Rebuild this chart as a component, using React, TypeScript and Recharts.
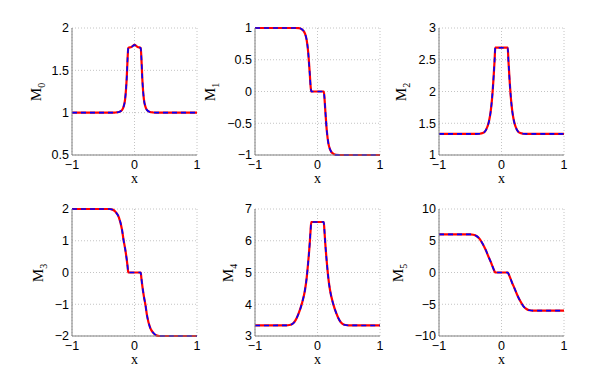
import { CartesianGrid, Line, LineChart, XAxis, YAxis } from "recharts";

const xs = [-1, -0.7, -0.5, -0.45, -0.4, -0.35, -0.3, -0.25, -0.2, -0.175, -0.15, -0.125, -0.11, -0.1, -0.05, 0, 0.05, 0.1, 0.11, 0.125, 0.15, 0.175, 0.2, 0.25, 0.3, 0.35, 0.4, 0.45, 0.5, 0.7, 1];

const m0 = [1, 1, 1, 1, 1, 1, 1.002, 1.008, 1.03, 1.07, 1.16, 1.4, 1.65, 1.765, 1.775, 1.8, 1.775, 1.765, 1.65, 1.4, 1.16, 1.07, 1.03, 1.008, 1.002, 1, 1, 1, 1, 1, 1];
const m1 = [1, 1, 1, 1, 1, 1, 0.998, 0.98, 0.91, 0.82, 0.63, 0.3, 0.08, 0, 0, 0, 0, 0, -0.08, -0.3, -0.63, -0.82, -0.91, -0.98, -0.998, -1, -1, -1, -1, -1, -1];
const m2 = [1.333, 1.333, 1.333, 1.333, 1.333, 1.335, 1.345, 1.39, 1.53, 1.67, 1.9, 2.25, 2.5, 2.69, 2.69, 2.69, 2.69, 2.69, 2.5, 2.25, 1.9, 1.67, 1.53, 1.39, 1.345, 1.335, 1.333, 1.333, 1.333, 1.333, 1.333];
const m3 = [2, 2, 2, 2, 2, 1.98, 1.9, 1.74, 1.35, 1.02, 0.75, 0.42, 0.18, 0, 0, 0, 0, 0, -0.18, -0.42, -0.75, -1.02, -1.35, -1.74, -1.9, -1.98, -2, -2, -2, -2, -2];
const m4 = [3.333, 3.333, 3.335, 3.345, 3.38, 3.5, 3.72, 4.02, 4.45, 4.8, 5.3, 5.9, 6.35, 6.59, 6.59, 6.59, 6.59, 6.59, 6.35, 5.9, 5.3, 4.8, 4.45, 4.02, 3.72, 3.5, 3.38, 3.345, 3.335, 3.333, 3.333];
const m5 = [6, 6, 6, 5.95, 5.75, 5.3, 4.5, 3.5, 2.3, 1.75, 1.12, 0.5, 0.15, 0, 0, 0, 0, 0, -0.15, -0.5, -1.12, -1.75, -2.3, -3.5, -4.5, -5.3, -5.75, -5.95, -6, -6, -6];

const xTicks = [-1, 0, 1];
const yTicks = [
  [0.5, 1, 1.5, 2],
  [-1, -0.5, 0, 0.5, 1],
  [1, 1.5, 2, 2.5, 3],
  [-2, -1, 0, 1, 2],
  [3, 4, 5, 6, 7],
  [-10, -5, 0, 5, 10],
];
const series = [m0, m1, m2, m3, m4, m5];

// plot-box placement and ylabel x centre for each panel
const panels = [
  { left: 72, top: 28, labelX: 38 },
  { left: 255, top: 28, labelX: 212 },
  { left: 439, top: 28, labelX: 403 },
  { left: 72, top: 209, labelX: 40 },
  { left: 255, top: 209, labelX: 230 },
  { left: 439, top: 209, labelX: 400 },
];
const PW = 125;
const PH = 127;

const fmt = (v: number) => String(v).replace("-", "\u2212");
const tickStyle = { fill: "#000", fontSize: 12.5, fontFamily: "Liberation Sans, Arial, sans-serif" };
const serif = "Liberation Serif, Times New Roman, serif";

function Panel({ idx }: { idx: number }) {
  const p = panels[idx];
  const vals = series[idx];
  const ticks = yTicks[idx];
  const data = xs.map((x, i) => ({ x, num: vals[i], exact: vals[i] }));
  return (
    <>
      <div style={{ position: "absolute", left: p.left - 60, top: p.top - 10 }}>
        <LineChart width={PW + 70} height={PH + 45} data={data} margin={{ top: 10, right: 10, bottom: 0, left: 20 }}>
          <CartesianGrid stroke="#c4c4c4" strokeDasharray="1 2" />
          <XAxis
            dataKey="x"
            type="number"
            domain={[-1, 1]}
            ticks={xTicks}
            tickFormatter={fmt}
            tick={tickStyle}
            tickLine={false}
            tickSize={0}
            tickMargin={5}
            height={35}
            axisLine={{ stroke: "#808080" }}
          />
          <XAxis xAxisId="top" orientation="top" dataKey="x" type="number" domain={[-1, 1]} height={0} tick={false} tickLine={false} axisLine={{ stroke: "#808080" }} />
          <YAxis
            type="number"
            domain={[ticks[0], ticks[ticks.length - 1]]}
            ticks={ticks}
            tickFormatter={fmt}
            tick={tickStyle}
            tickLine={false}
            tickSize={0}
            tickMargin={3}
            width={40}
            axisLine={{ stroke: "#808080" }}
          />
          <YAxis yAxisId="right" orientation="right" domain={[ticks[0], ticks[ticks.length - 1]]} width={0} tick={false} tickLine={false} axisLine={{ stroke: "#808080" }} />
          <Line type="monotone" dataKey="num" stroke="#ff0000" strokeWidth={2.2} dot={false} isAnimationActive={false} />
          <Line type="monotone" dataKey="exact" stroke="#0000ff" strokeWidth={1.6} strokeDasharray="5 4" dot={false} isAnimationActive={false} />
        </LineChart>
      </div>
      <div
        style={{
          position: "absolute",
          left: p.labelX,
          top: p.top + PH / 2,
          transform: "translate(-50%, -50%) rotate(-90deg)",
          fontFamily: serif,
          fontSize: 15,
          whiteSpace: "nowrap",
          lineHeight: 1,
        }}
      >
        M<sub style={{ fontSize: 10 }}>{idx}</sub>
      </div>
      <div
        style={{
          position: "absolute",
          left: p.left + PW / 2,
          top: p.top + PH + 24,
          transform: "translate(-50%, -50%)",
          fontFamily: serif,
          fontSize: 14,
          lineHeight: 1,
        }}
      >
        x
      </div>
    </>
  );
}

export default function App() {
  return (
    <div style={{ position: "absolute", left: 0, top: 0, width: 598, height: 381, background: "#fff" }}>
      {panels.map((_, i) => (
        <Panel key={i} idx={i} />
      ))}
    </div>
  );
}
